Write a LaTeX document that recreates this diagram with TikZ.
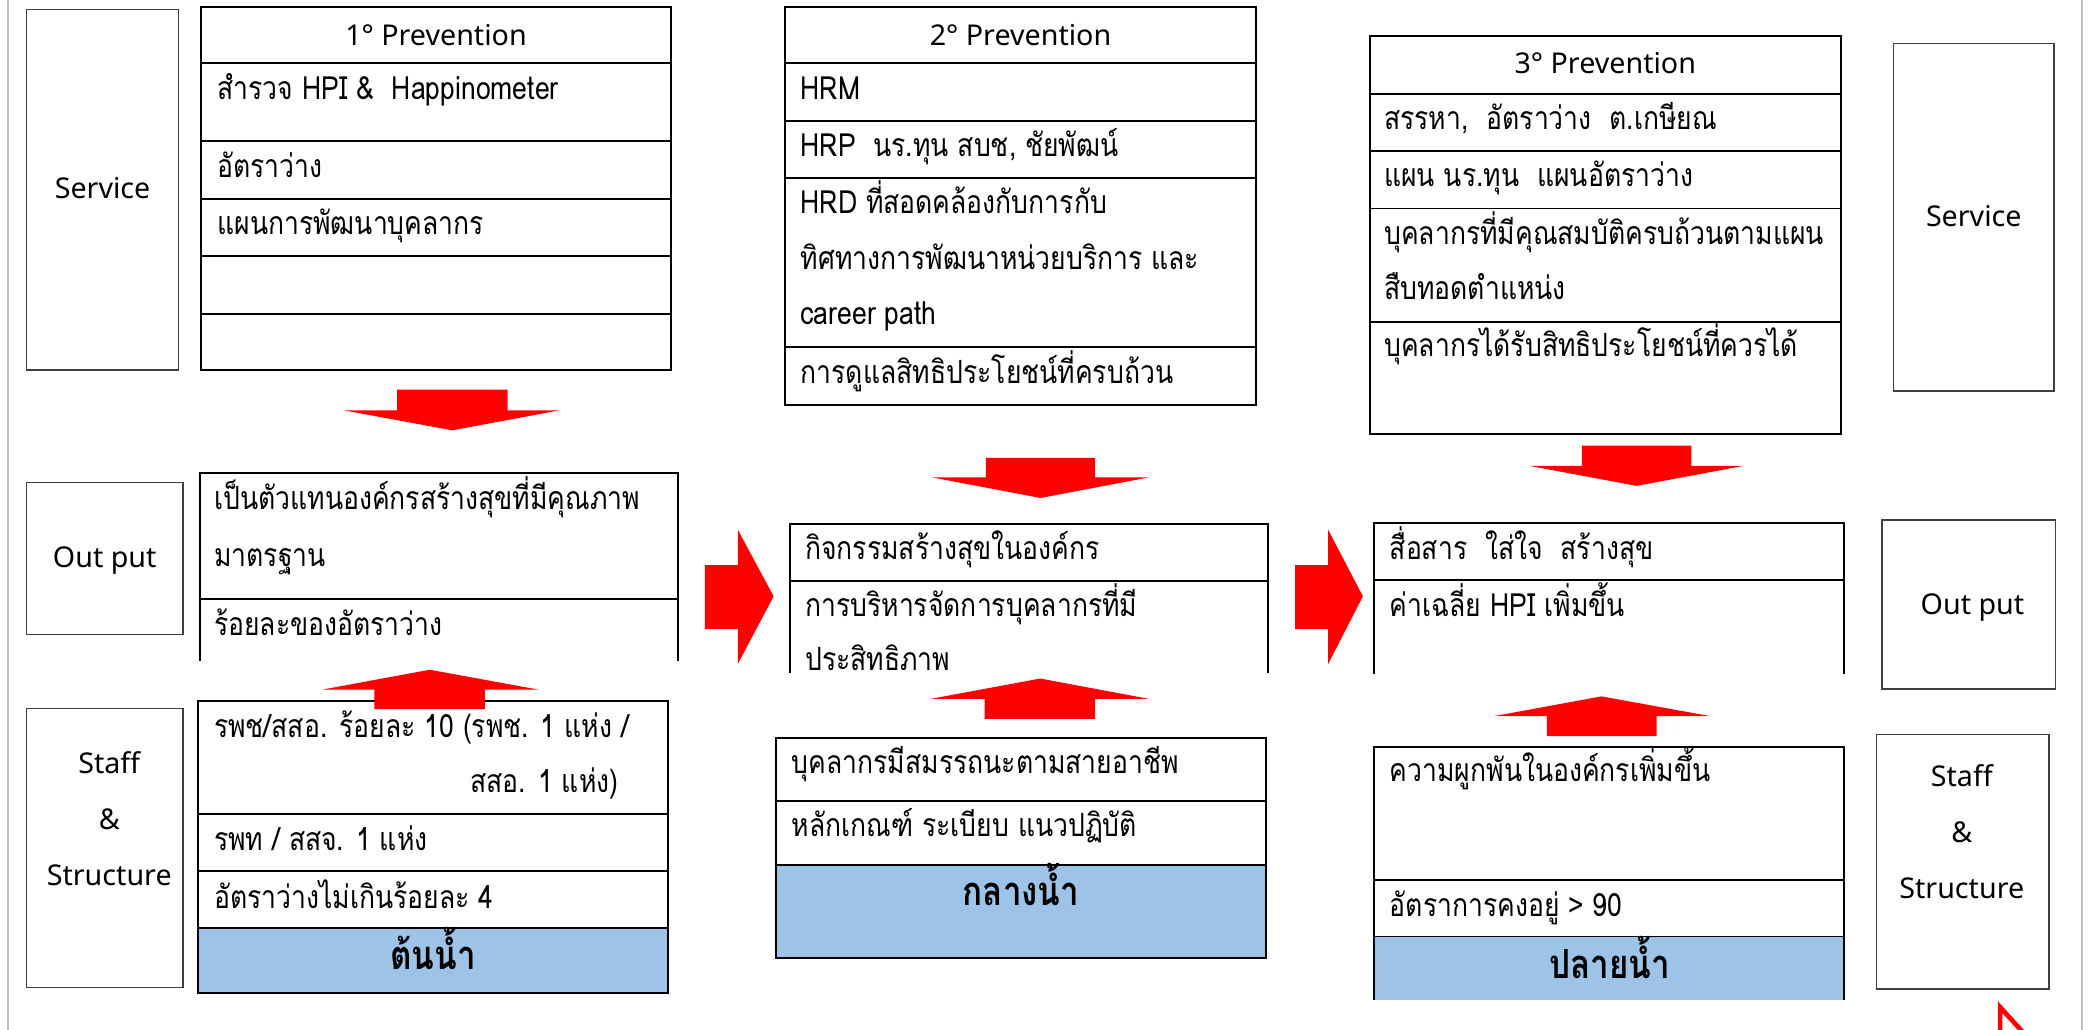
\documentclass[tikz,border=0pt]{standalone}
\usepackage{fontspec}
\setmainfont{Noto Sans}
\newfontfamily\thaifont[Script=Thai,FakeStretch=0.83]{Loma}
\usetikzlibrary{fit}
\definecolor{waterblue}{HTML}{9DC3E6}
\definecolor{sidegray}{HTML}{404040}
\begin{document}
\begin{tikzpicture}[x=1pt,y=-1pt,
  tbl/.style={draw=black,line width=1.5pt,inner sep=0pt},
  side/.style={draw=sidegray,line width=1pt,inner sep=0pt},
  blk/.style={fill=red,draw=none},
  th/.style={font=\thaifont\fontsize{24}{28}\selectfont,anchor=base west,inner sep=0pt},
  thb/.style={font=\thaifont\bfseries\fontsize{30}{34}\selectfont,anchor=base,inner sep=0pt},
  hdr/.style={font=\fontsize{21.5}{26}\selectfont,anchor=base,inner sep=0pt},
  lbl/.style={font=\fontsize{21.5}{42}\selectfont,align=center,inner sep=0pt},
  water/.style={fill=waterblue},
  pageedge/.style={draw=black!25,line width=1.2pt}
]
\useasboundingbox (0,0) rectangle (1568,773);
\fill[white] (0,0) rectangle (1568,773);
\draw[pageedge] (6.2,0) -- (6.2,773);
\draw[pageedge] (1562.6,0) -- (1562.6,773);

% ================= LEFT COLUMN =================
\node[side,fit={(20,7)(134,277.7)}] (svcL) {};
\node[hdr] (svcLt) at (77,148.7) {Service};
\node[tbl,fit={(151,5)(503.5,47.5)}] (p1h) {};
\node[hdr] (p1ht) at (327.25,33.8) {1° Prevention};
\node[tbl,fit={(151,47.5)(503.5,106)}] (p1a) {};
\node[tbl,fit={(151,106)(503.5,149)}] (p1b) {};
\node[tbl,fit={(151,149)(503.5,192)}] (p1c) {};
\node[tbl,fit={(151,192)(503.5,235.5)}] (p1d) {};
\node[tbl,fit={(151,235.5)(503.5,278)}] (p1e) {};
\node[th] (t1a) at (163,75) {สำรวจ HPI \&\ \ Happinometer};
\node[th] (t1b) at (163,133) {อัตราว่าง};
\node[th] (t1c) at (163,176) {แผนการพัฒนาบุคลากร};

\node[side,fit={(19.8,362)(137.4,476.4)}] (outL) {};
\node[hdr] (outLt) at (78.6,426) {Out put};
\node[tbl,fit={(150,355.2)(509,449.9)}] (o1a) {};
\draw[tbl] (150,449.9) -- (150,496.5);
\draw[tbl] (509,449.9) -- (509,496.5);
\node[th] (u1a) at (160.6,382.6) {เป็นตัวแทนองค์กรสร้างสุขที่มีคุณภาพ};
\node[th] (u1b) at (160.6,425) {มาตรฐาน};
\node[th] (u1c) at (160.6,477.3) {ร้อยละของอัตราว่าง};

\node[side,fit={(19.8,531.8)(137.4,741.4)}] (stL) {};
\node[lbl] (stLt) at (82,614.3) {Staff\\\&\\Structure};
\node[tbl,fit={(148.6,526)(501.5,610.9)}] (s1a) {};
\node[tbl,fit={(148.6,610.9)(501.5,653.8)}] (s1b) {};
\node[tbl,fit={(148.6,653.8)(501.5,696.7)}] (s1c) {};
\node[tbl,water,fit={(148.6,696.7)(501.5,745.6)}] (s1d) {};
\node[th] (v1a) at (160.6,553.5) {รพช/สสอ. ร้อยละ 10 (รพช. 1 แห่ง /};
\node[th] (v1b) at (353,594.5) {สสอ. 1 แห่ง)};
\node[th] (v1c) at (160.6,638.3) {รพท / สสจ. 1 แห่ง};
\node[th] (v1d) at (160.6,682) {อัตราว่างไม่เกินร้อยละ 4};
\node[thb] (w1) at (325,728) {ต้นน้ำ};

% ================= MIDDLE COLUMN =================
\node[tbl,fit={(589.4,5)(942.7,47.5)}] (p2h) {};
\node[hdr] (p2ht) at (766,33.8) {2° Prevention};
\node[tbl,fit={(589.4,47.5)(942.7,90.5)}] (p2a) {};
\node[tbl,fit={(589.4,90.5)(942.7,133.75)}] (p2b) {};
\node[tbl,fit={(589.4,133.75)(942.7,260.5)}] (p2c) {};
\node[tbl,fit={(589.4,260.5)(942.7,303.75)}] (p2d) {};
\node[th] (t2a) at (600.8,75) {HRM};
\node[th] (t2b) at (600.8,117.5) {HRP\ \ นร.ทุน สบช, ชัยพัฒน์};
\node[th] (t2c) at (600.8,160) {HRD ที่สอดคล้องกับการกับ};
\node[th] (t2d) at (600.8,202.5) {ทิศทางการพัฒนาหน่วยบริการ และ};
\node[th] (t2e) at (600.8,243.75) {career path};
\node[th] (t2f) at (600.8,287.5) {การดูแลสิทธิประโยชน์ที่ครบถ้วน};

\node[tbl,fit={(592.7,393)(951.9,435.8)}] (o2a) {};
\draw[tbl] (592.7,435.8) -- (592.7,504.8);
\draw[tbl] (951.9,435.8) -- (951.9,504.8);
\node[th] (u2a) at (604.2,419.8) {กิจกรรมสร้างสุขในองค์กร};
\node[th] (u2b) at (604.2,462.6) {การบริหารจัดการบุคลากรที่มี};
\node[th] (u2c) at (604.2,503.4) {ประสิทธิภาพ};

\node[tbl,fit={(582.3,554.1)(950.3,601.2)}] (s2a) {};
\node[tbl,fit={(582.3,601.2)(950.3,649)}] (s2b) {};
\node[tbl,water,fit={(582.3,649)(950.3,718.9)}] (s2c) {};
\node[th] (v2a) at (594.1,580.9) {บุคลากรมีสมรรถนะตามสายอาชีพ};
\node[th] (v2b) at (594.1,628.2) {หลักเกณฑ์ ระเบียบ แนวปฏิบัติ};
\node[thb] (w2) at (766.3,679.5) {กลางน้ำ};

% ================= RIGHT COLUMN =================
\node[tbl,fit={(1028.2,27.25)(1381.6,70.25)}] (p3h) {};
\node[hdr] (p3ht) at (1204.9,55) {3° Prevention};
\node[tbl,fit={(1028.2,70.25)(1381.6,113)}] (p3a) {};
\node[tbl,fit={(1028.2,113)(1381.6,156.5)}] (p3b) {};
\node[tbl,fit={(1028.2,156.5)(1381.6,241.5)}] (p3c) {};
\node[tbl,fit={(1028.2,241.5)(1381.6,326)}] (p3d) {};
\node[th] (t3a) at (1038.8,97.25) {สรรหา,\ \ อัตราว่าง\ \ ต.เกษียณ};
\node[th] (t3b) at (1038.8,139.75) {แผน นร.ทุน\ \ แผนอัตราว่าง};
\node[th] (t3c) at (1038.8,183.5) {บุคลากรที่มีคุณสมบัติครบถ้วนตามแผน};
\node[th] (t3d) at (1038.8,224.75) {สืบทอดตำแหน่ง};
\node[th] (t3e) at (1038.8,267.25) {บุคลากรได้รับสิทธิประโยชน์ที่ควรได้};
\node[side,fit={(1421,32.5)(1541.6,293.5)}] (svcR) {};
\node[hdr] (svcRt) at (1481.5,170) {Service};

\node[tbl,fit={(1031.6,392.8)(1384.4,435.7)}] (o3a) {};
\draw[tbl] (1031.6,435.7) -- (1031.6,505.8);
\draw[tbl] (1384.4,435.7) -- (1384.4,505.8);
\node[th] (u3a) at (1043,420) {สื่อสาร\ \ ใส่ใจ\ \ สร้างสุข};
\node[th] (u3b) at (1043,462.9) {ค่าเฉลี่ย HPI เพิ่มขึ้น};
\node[side,fit={(1412.5,390.3)(1543,517.2)}] (outR) {};
\node[hdr] (outRt) at (1480.5,461.5) {Out put};

\node[tbl,fit={(1031.6,560.4)(1384.4,660.7)}] (s3a) {};
\node[tbl,fit={(1031.6,660.7)(1384.4,703)}] (s3b) {};
\fill[waterblue] (1031.6,703) rectangle (1384.4,750.6);
\draw[tbl] (1031.6,703) -- (1031.6,750.6);
\draw[tbl] (1384.4,703) -- (1384.4,750.6);
\node[th] (v3a) at (1043,586.7) {ความผูกพันในองค์กรเพิ่มขึ้น};
\node[th] (v3b) at (1043,687.9) {อัตราการคงอยู่ > 90};
\node[thb] (w3) at (1208,734.8) {ปลายน้ำ};
\node[side,fit={(1408.4,551.4)(1538,742.3)}] (stR) {};
\node[lbl] (stRt) at (1472.5,624.5) {Staff\\\&\\Structure};

% ================= BLOCK ARROWS =================
% down arrows
\fill[blk] (298,292.5) -- (381,292.5) -- (381,308) -- (420,308) -- (339.5,323) -- (258,308) -- (298,308) -- cycle;
\fill[blk] (740,343.7) -- (822,343.7) -- (822,358.4) -- (862,358.4) -- (781,373.8) -- (700,358.4) -- (740,358.4) -- cycle;
\fill[blk] (1187.3,334.5) -- (1269.6,334.5) -- (1269.6,349.6) -- (1309.3,349.6) -- (1228.5,364.7) -- (1147.6,349.6) -- (1187.3,349.6) -- cycle;
% up arrows
\fill[blk] (281,532.3) -- (364,532.3) -- (364,517.6) -- (404,517.6) -- (322.6,502.7) -- (242,517.6) -- (281,517.6) -- cycle;
\fill[blk] (739,539.5) -- (822,539.5) -- (822,524.5) -- (862,524.5) -- (780.8,509.3) -- (699,524.5) -- (739,524.5) -- cycle;
\fill[blk] (1161,552.6) -- (1243.5,552.6) -- (1243.5,537.5) -- (1283.6,537.5) -- (1202,522.7) -- (1121.6,537.5) -- (1161,537.5) -- cycle;
% right arrows
\fill[blk] (529,424.1) -- (553.8,424.1) -- (553.8,397.6) -- (580.7,447.6) -- (553.8,498.4) -- (553.8,472.2) -- (529,472.2) -- cycle;
\fill[blk] (972.1,424.1) -- (996.9,424.1) -- (996.9,397.6) -- (1023,447.6) -- (996.9,498.4) -- (996.9,472.2) -- (972.1,472.2) -- cycle;
% arrow fragment at the bottom right corner
\draw[red,line width=3.5pt] (1519.5,776) -- (1501.3,756) -- (1501.3,776);
\end{tikzpicture}
\end{document}
